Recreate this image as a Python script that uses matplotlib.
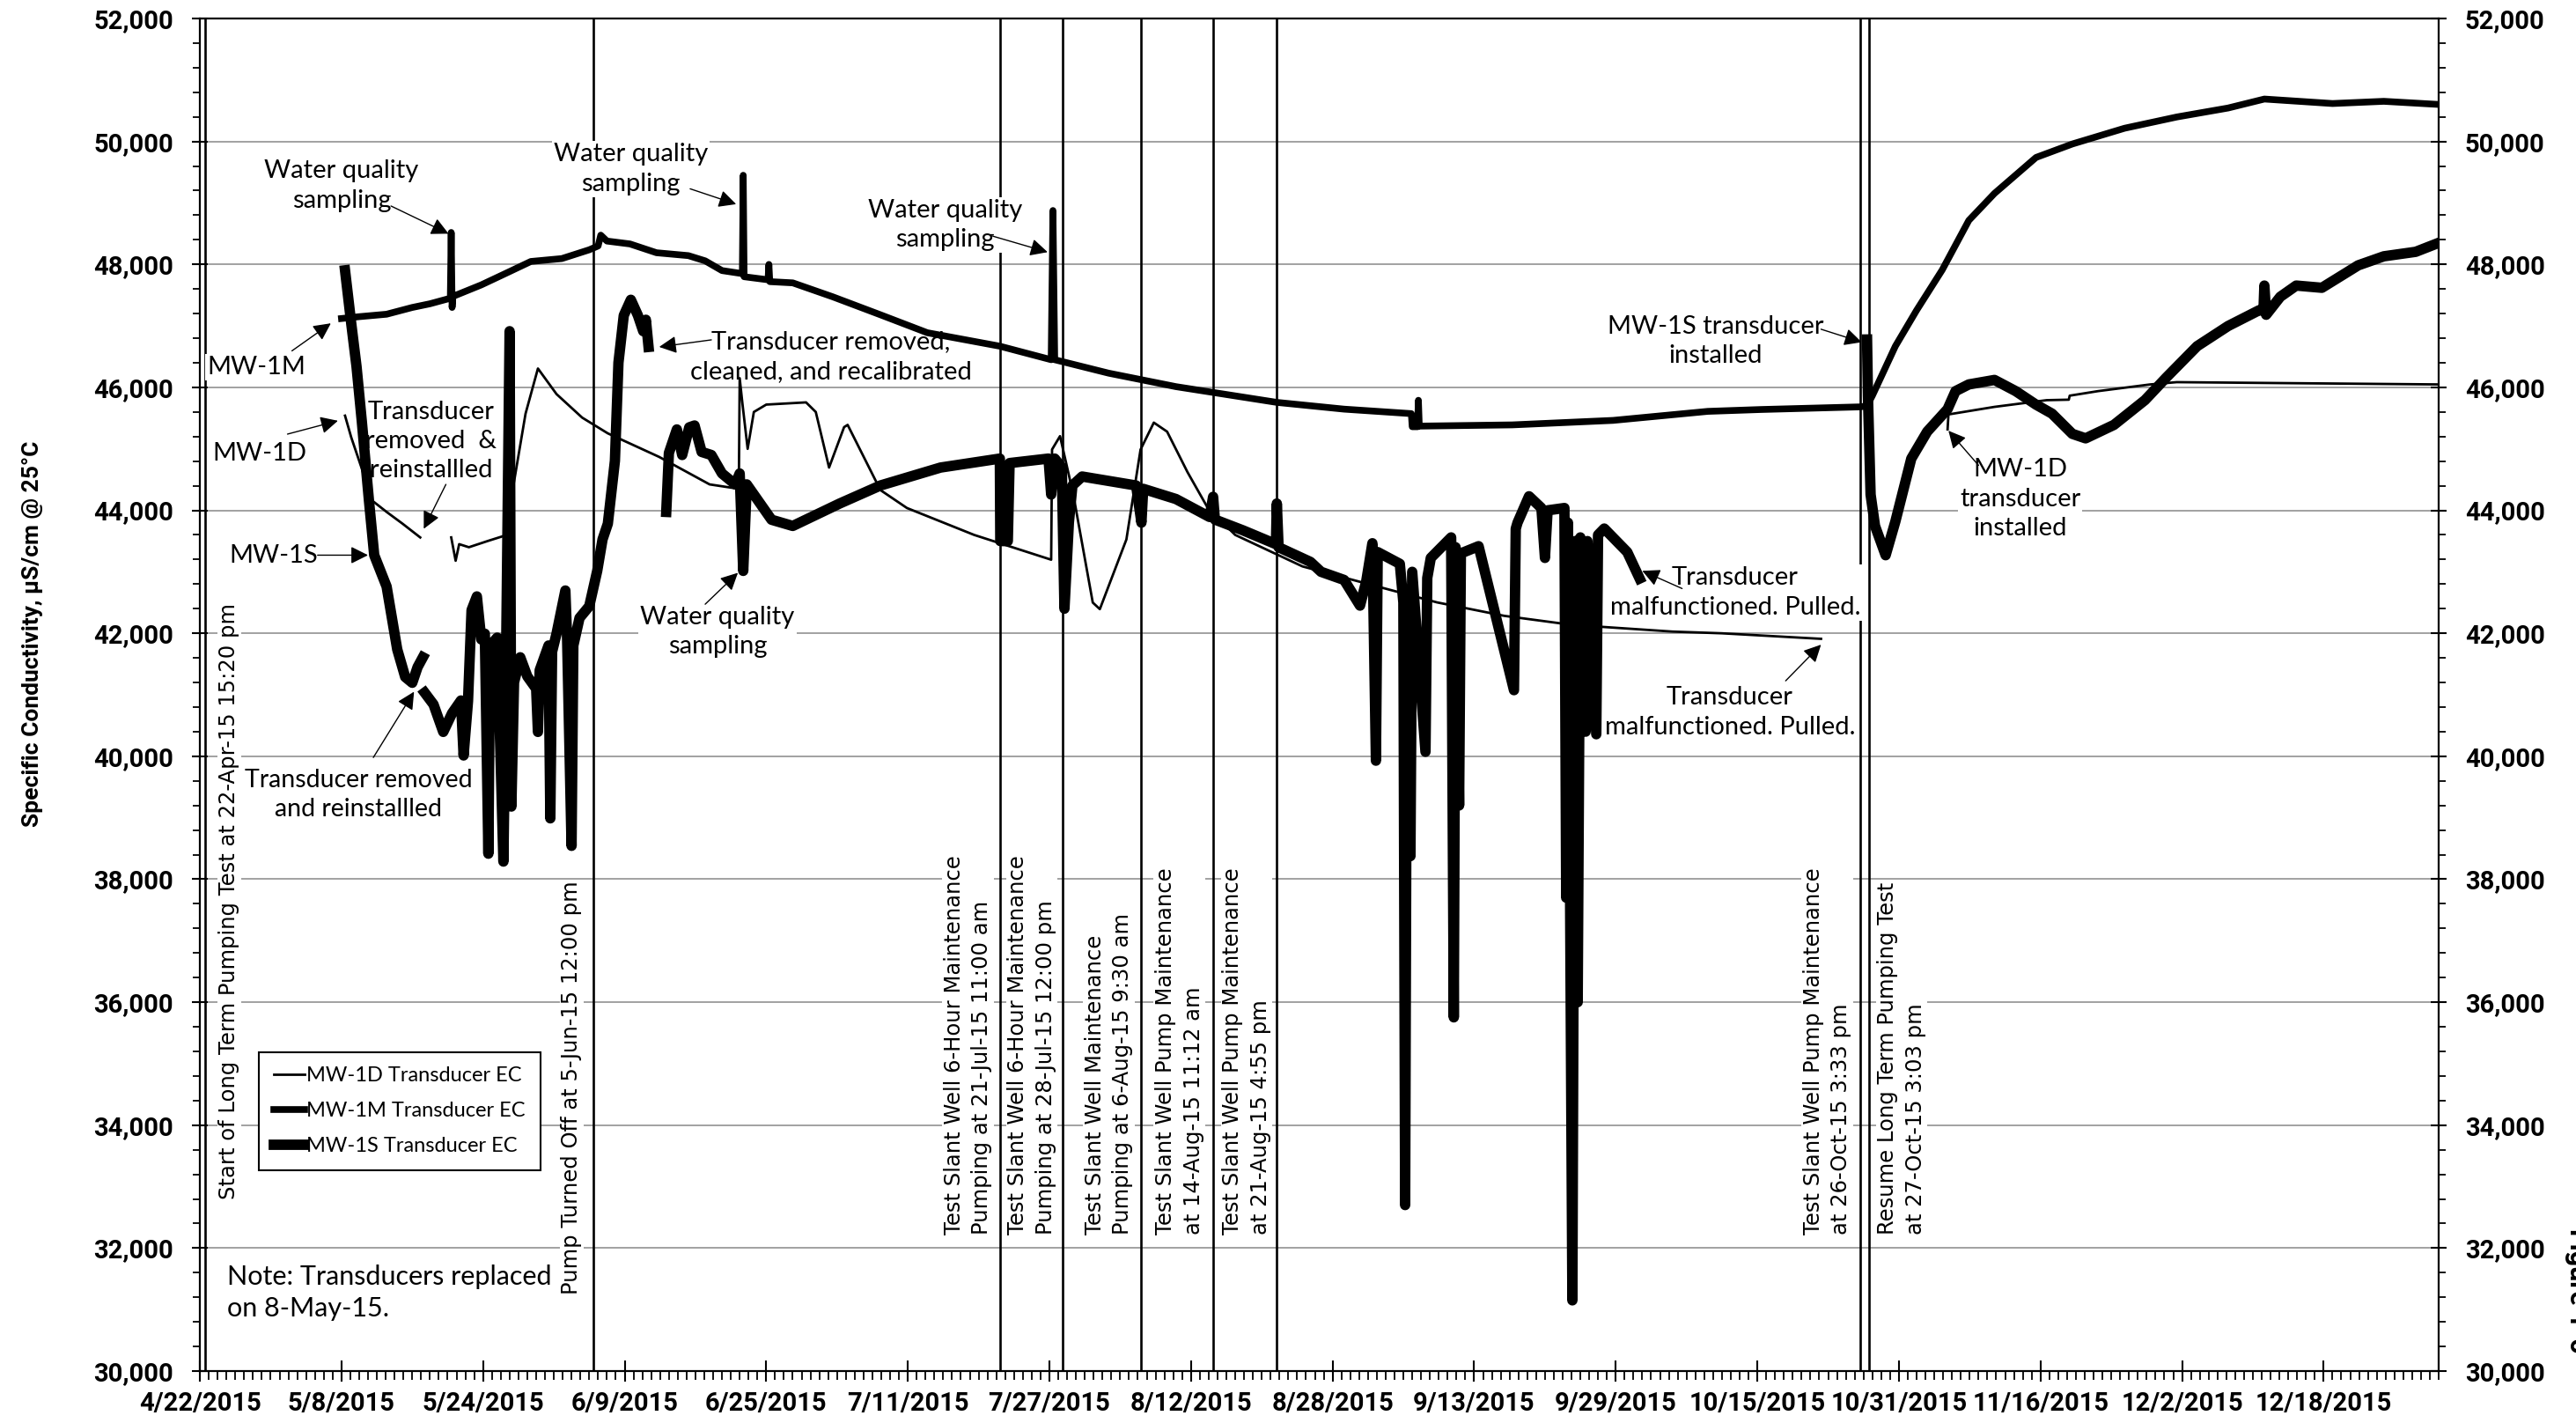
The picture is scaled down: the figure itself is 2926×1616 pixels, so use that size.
import numpy as np
import matplotlib
matplotlib.use("Agg")
import matplotlib.pyplot as plt
import matplotlib.dates as mdates
from matplotlib.ticker import FixedLocator, MultipleLocator, FuncFormatter
from datetime import datetime

NARROW = ['Lato', 'DejaVu Sans']
BOLD = ['Roboto', 'DejaVu Sans']
WIDE = ['DejaVu Sans']

# days are counted from 4/22/2015 00:00
start = datetime(2015, 4, 22)

mw1d_days = [16.4, 17.1, 18.3, 19.4, 21.1, 22.9, 24.9, np.nan,
             28.4, 28.9, 29.3, 30.4, 32.5, 34.5, 35.0, 35.3, 36.8, 38.2, 40.3, 43.2, 46.1, 51.9,
             57.6, 60.9, 61.0, 61.3, 61.9, 62.6, 64.0, 68.5, 69.6, 71.1, 72.8, 73.2, 76.9, 79.9,
             87.5, 96.2, 96.3, 97.2, 98.7, 100.9, 101.7, 104.7, 106.3, 107.8, 109.3, 111.6, 113.9,
             117.0, 124.6, 132.2, 139.8, 147.4, 155.0, 166.4, 172.0, 183.2, np.nan,
             197.5, 197.6, 202.8, 208.7, 211.2, 211.3, 214.5, 220.4, 223.4, 235.1, 253.0]
mw1d_vals = [45540, 45188, 44677, 44166, 43974, 43783, 43559, np.nan,
             43560, 43180, 43450, 43400, 43500, 43591, 43700, 44294, 45572, 46307, 45891, 45508, 45252, 44869,
             44422, 44350, 46150, 45750, 45000, 45600, 45720, 45756, 45600, 44696, 45354, 45390, 44330, 44038,
             43600, 43197, 44990, 45207, 44257, 42500, 42393, 43526, 44988, 45427, 45280, 44623, 44038,
             43600, 43088, 42795, 42503, 42284, 42138, 42028, 42000, 41910, np.nan,
             45317, 45560, 45683, 45792, 45800, 45865, 45939, 46048, 46085, 46070, 46048]

mw1m_days = [16.0, 18.0, 21.1, 24.0, 26.0, 28.3, 28.4, 28.5, 28.6, 31.8, 34.5, 37.4, 40.9, 44.0, 45.0,
             45.3, 46.0, 48.6, 51.6, 55.2, 57.1, 59.0, 61.3, 61.4, 61.5, 64.2, 64.3, 64.4, 67.0, 71.5,
             76.9, 82.2, 90.4, 96.2, 96.4, 96.6, 102.7, 110.3, 121.7, 129.3, 136.9, 137.0, 137.6, 137.7,
             137.8, 148.3, 159.7, 170.4, 176.4, 187.65, 188.4, 189.0, 191.6, 194.0, 196.9, 199.9, 202.8,
             207.5, 211.6, 217.5, 223.4, 229.2, 233.3, 241.0, 246.8, 253.0]
mw1m_vals = [47120, 47150, 47190, 47300, 47360, 47450, 48520, 47300, 47480, 47667, 47850, 48048, 48095, 48238, 48300,
             48476, 48380, 48333, 48190, 48143, 48058, 47900, 47850, 49450, 47800, 47750, 48000, 47720, 47700, 47474,
             47181, 46889, 46670, 46450, 48877, 46450, 46231, 46012, 45756, 45646, 45573, 45360, 45360, 45790,
             45370, 45390, 45463, 45610, 45640, 45683, 45700, 45865, 46670, 47254, 47912, 48716, 49155,
             49740, 49959, 50215, 50398, 50544, 50690, 50617, 50653, 50602]

mw1s_days = [16.4, 17.1, 17.7, 18.3, 19.1, 19.7, 21.1, 22.3, 23.2, 24.0, 24.6, 25.2, np.nan,
             25.4, 26.4, 27.5, 28.5, 29.5, 29.8, 30.3, 30.7, 31.3, 31.8, 32.2, 32.6, 32.8, 33.6, 34.3, 34.6,
             35.0, 35.2, 35.5, 36.2, 37.0, 38.0, 38.2, 38.4, 39.4, 39.6, 39.8, 40.3, 41.3, 41.5, 42.0, 42.2,
             42.9, 44.0, 44.9, 45.5, 46.1, 46.9, 47.3, 47.9, 48.7, 49.5, 50.1, 50.4, 50.7, np.nan,
             52.7, 53.0, 53.9, 54.5, 55.3, 55.9, 56.7, 57.8, 59.0, 60.5, 61.0, 61.4, 61.8, 64.6, 67.0, 72.3,
             76.9, 83.7, 90.4, 90.45, 91.3, 91.5, 95.9, 96.2, 96.6, 97.4, 97.7, 98.2, 98.6, 99.7, 105.8,
             106.4, 106.6, 110.3, 114.1, 114.5, 114.7, 117.9, 121.6, 121.7, 121.9, 125.5, 126.7, 129.3,
             131.1, 131.8, 132.5, 132.9, 133.1, 135.6, 136.0, 136.2, 136.4, 136.8, 137.0, 138.5, 138.7,
             139.1, 141.4, 141.7, 141.9, 142.3, 142.5, 144.5, 148.5, 148.7, 148.9, 150.2, 151.6, 152.0,
             152.3, 154.2, 154.4, 154.6, 155.1, 155.4, 155.7, 156.0, 156.6, 156.8, 157.8, 158.0, 158.7,
             160.0, 161.3, 162.7, np.nan,
             188.4, 188.5, 188.8, 189.3, 190.5, 191.6, 193.4, 195.2, 197.5, 198.4, 199.9, 202.8, 205.2,
             207.5, 209.3, 211.6, 213.1, 216.3, 219.8, 222.2, 225.7, 229.2, 232.7, 233.2, 233.3, 233.5,
             235.1, 236.9, 239.8, 243.9, 246.8, 250.4, 253.0]
mw1s_vals = [47904, 47042, 46339, 45444, 44166, 43271, 42760, 41738, 41290, 41195, 41450, 41610, np.nan,
             41035, 40843, 40396, 40700, 40907, 40013, 40900, 42377, 42600, 41900, 41993, 38415, 41800, 41930, 38287, 41600,
             46914, 39182, 41200, 41610, 41300, 41099, 40396, 41400, 41802, 38990, 41700, 41993, 42696, 41900, 38543, 41800,
             42249, 42441, 43016, 43527, 43783, 44805, 46403, 47170, 47425, 47170, 46914, 47100, 46658, np.nan,
             43974, 44933, 45316, 44900, 45350, 45380, 44950, 44900, 44600, 44422, 44600, 43015, 44422, 43847, 43746, 44111,
             44404, 44696, 44842, 43500, 43500, 44769, 44842, 44257, 44842, 44700, 42400, 43800, 44404, 44550, 44404,
             43800, 44350, 44184, 43892, 44220, 43850, 43673, 43450, 44111, 43400, 43161, 43000, 42868,
             42450, 42843, 43465, 39928, 43321, 43130, 42500, 32700, 41792, 38376, 43000, 40072, 42900,
             43226, 43560, 35753, 43400, 39200, 43300, 43417, 41075, 43700, 43799, 44229, 44038, 43226,
             44000, 44038, 37700, 43800, 31150, 43500, 36000, 43560, 40400, 43500, 40358, 43600, 43704,
             43513, 43321, 42891, np.nan,
             46779, 45865, 44257, 43746, 43270, 43819, 44842, 45281, 45646, 45939, 46048, 46121, 45939,
             45719, 45573, 45244, 45171, 45390, 45792, 46158, 46670, 46998, 47254, 47254, 47656, 47181,
             47474, 47656, 47620, 47985, 48132, 48205, 48351]

event_times = ['2015-04-22 15:20', '2015-06-05 12:00', '2015-07-21 11:00', '2015-07-28 12:00',
               '2015-08-06 09:30', '2015-08-14 11:12', '2015-08-21 16:55', '2015-10-26 15:33',
               '2015-10-27 15:03']

xtick_labels = ['4/22/2015', '5/8/2015', '5/24/2015', '6/9/2015', '6/25/2015', '7/11/2015',
                '7/27/2015', '8/12/2015', '8/28/2015', '9/13/2015', '9/29/2015', '10/15/2015',
                '10/31/2015', '11/16/2015', '12/2/2015', '12/18/2015']

t0 = mdates.date2num(start)


def tx(days):
    return t0 + np.asarray(days, dtype=float)


fig = plt.figure(figsize=(29.26, 16.16), dpi=100)
ax = fig.add_axes([0.0776, 0.0365, 0.8691, 0.9505])

ax.set_xlim(t0, t0 + 253)
ax.set_ylim(30000, 52000)

# grid + ticks
ax.yaxis.set_major_locator(MultipleLocator(2000))
ax.yaxis.set_minor_locator(MultipleLocator(400))
ax.yaxis.set_major_formatter(FuncFormatter(lambda v, p: '{:,.0f}'.format(v)))
xt = [mdates.date2num(datetime.strptime(s, '%m/%d/%Y')) for s in xtick_labels]
ax.xaxis.set_major_locator(FixedLocator(xt))
ax.set_xticklabels(xtick_labels)
ax.xaxis.set_minor_locator(MultipleLocator(1))
ax.grid(axis='y', which='major', color='#9a9a9a', lw=1.3, zorder=0)
ax.set_axisbelow(True)

ax.yaxis.set_ticks_position('both')
ax.tick_params(axis='y', which='major', direction='inout', length=13, width=1.5, pad=15,
               labelright=True, labelsize=21)
ax.tick_params(axis='y', which='minor', direction='out', length=6, width=1.3)
ax.tick_params(axis='x', which='major', direction='inout', length=17, width=1.5, pad=8, labelsize=21)
ax.tick_params(axis='x', which='minor', direction='out', length=7, width=1.3)
for lab in ax.get_xticklabels():
    lab.set_family(BOLD)
    lab.set_fontweight('bold')
for t in ax.yaxis.get_major_ticks():
    for lab in (t.label1, t.label2):
        lab.set_family(BOLD)
        lab.set_fontweight('bold')
for side in ['left', 'right', 'top', 'bottom']:
    ax.spines[side].set_linewidth(1.6)

# event lines
for s in event_times:
    ax.axvline(mdates.date2num(datetime.strptime(s, '%Y-%m-%d %H:%M')), color='black', lw=1.9, zorder=2)

# data
l1, = ax.plot(tx(mw1d_days), mw1d_vals, color='black', lw=2.0, zorder=4, label='MW-1D Transducer EC')
l2, = ax.plot(tx(mw1m_days), mw1m_vals, color='black', lw=5.5, zorder=4, label='MW-1M Transducer EC')
l3, = ax.plot(tx(mw1s_days), mw1s_vals, color='black', lw=8.5, zorder=4, label='MW-1S Transducer EC')

box = dict(facecolor='white', edgecolor='none', pad=1.5)


def note(txt, d, v, fs=21, ha='center'):
    ax.text(t0 + d, v, txt, ha=ha, va='center', fontsize=fs, family=NARROW, bbox=box,
            zorder=3, linespacing=1.35)


def arrow(d1, v1, d2, v2):
    ax.annotate('', xy=(t0 + d2, v2), xytext=(t0 + d1, v1),
                arrowprops=dict(arrowstyle='-|>', color='black', lw=1.0, mutation_scale=30,
                                shrinkA=0, shrinkB=0), zorder=5)


note('Water quality\nsampling', 16.0, 49280)
arrow(21.6, 48950, 28.1, 48500)
note('Water quality\nsampling', 48.7, 49550)
arrow(55.4, 49230, 60.6, 48980)
note('Water quality\nsampling', 84.2, 48640)
arrow(89.6, 48460, 95.8, 48200)
note('MW-1M', 6.4, 46330)
arrow(10.4, 46594, 14.8, 47042)
note('MW-1D', 6.7, 44930)
arrow(9.9, 45240, 15.6, 45457)
note('MW-1S', 8.3, 43270)
arrow(13.3, 43271, 19.0, 43271)
note('Transducer\nremoved  &\nreinstallled', 26.1, 45125)
arrow(27.8, 44422, 25.3, 43700)
note('Transducer removed\nand reinstallled', 17.9, 39370, fs=20.5)
arrow(19.6, 39980, 24.2, 41050)
note('Water quality\nsampling', 58.5, 42025)
arrow(57.1, 42473, 60.8, 42984)
note('Transducer removed,\ncleaned, and recalibrated', 71.3, 46500)
arrow(57.8, 46773, 51.9, 46658)
note('MW-1S transducer\ninstalled', 171.3, 46755)
arrow(183.2, 46946, 187.8, 46735)
note('Transducer\nmalfunctioned. Pulled.', 173.5, 42664)
arrow(167.5, 42728, 163.0, 43016)
note('Transducer\nmalfunctioned. Pulled.', 172.9, 40715)
arrow(179.2, 41227, 183.2, 41815)
note('MW-1D\ntransducer\ninstalled', 205.7, 44184)
arrow(201.0, 44732, 197.6, 45295)
note('Note: Transducers replaced\non 8-May-15.', 3.1, 31270, fs=22, ha='left')

# rotated event labels
rot = [('Start of Long Term Pumping Test at 22-Apr-15 15:20 pm', 3.3, 32800),
       ('Pump Turned Off at 5-Jun-15 12:00 pm', 42.0, 31250),
       ('Test Slant Well 6-Hour Maintenance\nPumping at 21-Jul-15 11:00 am', 86.8, 32220),
       ('Test Slant Well 6-Hour Maintenance\nPumping at 28-Jul-15 12:00 pm', 94.0, 32220),
       ('Test Slant Well Maintenance\nPumping at 6-Aug-15 9:30 am', 102.7, 32220),
       ('Test Slant Well Pump Maintenance\nat 14-Aug-15 11:12 am', 110.7, 32220),
       ('Test Slant Well Pump Maintenance\nat 21-Aug-15 4:55 pm', 118.3, 32220),
       ('Test Slant Well Pump Maintenance\nat 26-Oct-15 3:33 pm', 183.9, 32220),
       ('Resume Long Term Pumping Test\nat 27-Oct-15 3:03 pm', 192.3, 32220)]
for txt, d, v in rot:
    ax.text(t0 + d, v, txt, rotation=90, ha='center', va='bottom', fontsize=17.5, family=WIDE,
            multialignment='left', linespacing=1.4, bbox=dict(facecolor='white', edgecolor='none', pad=1),
            zorder=2.5)

leg = ax.legend(handles=[l1, l2, l3], loc='upper left', bbox_to_anchor=(0.0965, 0.268),
                bbox_transform=fig.transFigure, prop={'family': NARROW, 'size': 17},
                frameon=True, fancybox=False, edgecolor='black', framealpha=1,
                handlelength=1.5, handletextpad=0.1, labelspacing=0.8, borderpad=0.7)
leg.get_frame().set_linewidth(1.5)
leg.set_zorder(6)

fig.text(37 / 2926, 1 - 720 / 1616, 'Specific Conductivity, µS/cm @ 25°C', rotation=90,
         ha='center', va='center', fontsize=19, fontweight='bold', family=BOLD)
fig.text(2913 / 2926, 1 - 1395 / 1616, 'Figure 1-6', rotation=270, ha='left', va='top',
         fontsize=22, fontweight='bold', family=BOLD)

fig.savefig('out.png', dpi=100)
